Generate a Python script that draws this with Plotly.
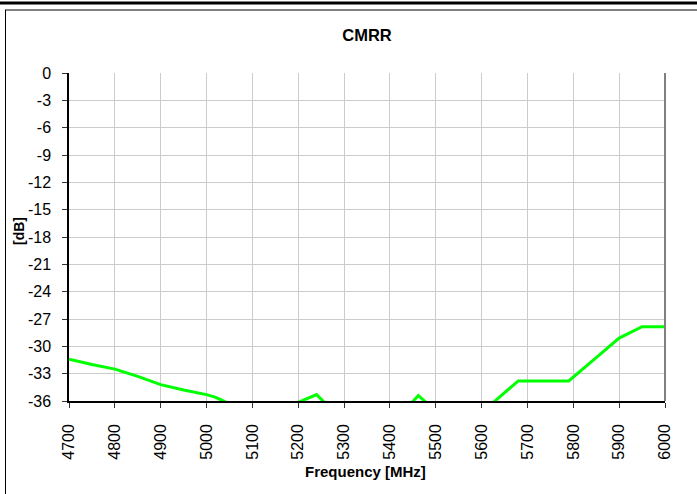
import plotly.graph_objects as go

freq_mhz = [4700, 4750, 4800, 4850, 4900, 4950, 5000, 5020, 5050, 5100, 5150, 5200,
            5240, 5260, 5300, 5350, 5400, 5440, 5462, 5480, 5500, 5550, 5600, 5620,
            5680, 5700, 5750, 5790, 5850, 5900, 5950, 6000]
cmrr_db = [-31.4, -32.0, -32.5, -33.3, -34.2, -34.8, -35.3, -35.6, -36.3, -38.0, -38.0, -36.15,
           -35.3, -36.3, -38.0, -38.0, -38.0, -36.6, -35.4, -36.2, -37.5, -38.0, -37.5, -36.4,
           -33.8, -33.8, -33.8, -33.8, -31.25, -29.1, -27.85, -27.85]

x_ticks = list(range(4700, 6001, 100))
y_ticks = list(range(0, -37, -3))

FONT = "Arial, Liberation Sans, sans-serif"

fig = go.Figure()
fig.add_trace(go.Scatter(x=freq_mhz, y=cmrr_db, mode="lines",
                         line=dict(color="#00ff00", width=3), showlegend=False,
                         hoverinfo="x+y"))

W, H = 697, 494
L, R, T, B = 69, 32, 73, 93
pw, ph = W - L - R, H - T - B

def px(x):
    return (x - L) / pw

def py(y):
    return (H - B - y) / ph

shapes = [
    dict(type="line", xref="paper", yref="paper", x0=px(0), x1=px(W), y0=py(3), y1=py(3),
         line=dict(color="black", width=3)),
    dict(type="line", xref="paper", yref="paper", x0=px(5), x1=px(W), y0=py(10), y1=py(10),
         line=dict(color="black", width=1)),
    dict(type="line", xref="paper", yref="paper", x0=px(5.5), x1=px(5.5), y0=py(10), y1=py(H + 2),
         line=dict(color="black", width=1)),
    dict(type="line", xref="paper", yref="paper", x0=1, x1=1, y0=0, y1=1,
         line=dict(color="#808080", width=2)),
]

annotations = [
    dict(text="<b>Frequency [MHz]</b>", xref="paper", yref="paper", x=px(365), y=py(471),
         xanchor="center", yanchor="middle", showarrow=False,
         font=dict(family=FONT, size=15, color="black")),
    dict(text="<b>[dB]</b>", xref="paper", yref="paper", x=px(19), y=py(231),
         xanchor="center", yanchor="middle", showarrow=False, textangle=-90,
         font=dict(family=FONT, size=14, color="black")),
]

fig.update_layout(
    width=W, height=H,
    margin=dict(l=L, r=R, t=T, b=B),
    paper_bgcolor="white", plot_bgcolor="white",
    title=dict(text="<b>CMRR</b>", x=367 / W, xanchor="center", y=1 - 35 / H, yanchor="middle",
               font=dict(family=FONT, size=16.5, color="black")),
    shapes=shapes,
    annotations=annotations,
    font=dict(family=FONT, size=16, color="black"),
)
fig.update_xaxes(
    range=[4700, 6000], tickvals=x_ticks, ticktext=[str(v) for v in x_ticks],
    tickangle=-90, showgrid=True, gridcolor="#cccccc", gridwidth=1,
    showline=True, linecolor="black", linewidth=1.5,
    ticks="outside", ticklen=5, tickcolor="#333333",
    tickfont=dict(family=FONT, size=16, color="black"),
    ticklabelstandoff=10,
    zeroline=False, fixedrange=True,
)
fig.update_yaxes(
    range=[-36, 0], tickvals=y_ticks, ticktext=[str(v) for v in y_ticks],
    showgrid=True, gridcolor="#cccccc", gridwidth=1,
    showline=True, linecolor="black", linewidth=1.5,
    ticks="outside", ticklen=5, tickcolor="#333333",
    tickfont=dict(family=FONT, size=16, color="black"),
    ticklabelstandoff=8,
    zeroline=False, fixedrange=True,
)

fig.write_html("out.html", config={"displayModeBar": False},
               post_script="document.body.style.margin='0px';document.body.style.padding='0px';")
